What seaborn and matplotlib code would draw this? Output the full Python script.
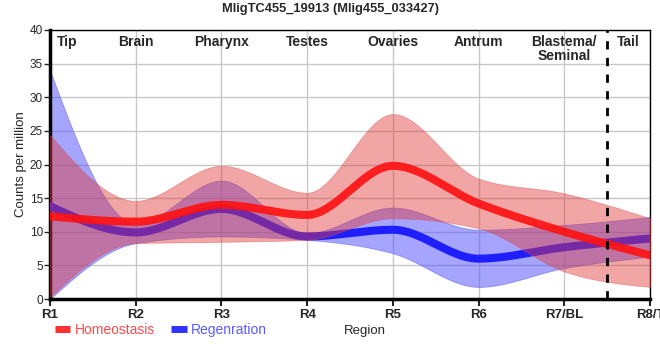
import numpy as np
import pandas as pd
import matplotlib
matplotlib.use("Agg")
import matplotlib.pyplot as plt
import seaborn as sns
from matplotlib.lines import Line2D

# Donnees (valeur par region)
regions = ["R1", "R2", "R3", "R4", "R5", "R6", "R7/BL", "R8/T"]
tissus = ["Tip", "Brain", "Pharynx", "Testes", "Ovaries", "Antrum", "Blastema/\nSeminal", "Tail"]
tissu_pos = [0.2, 1, 2, 3, 4, 5, 6, 6.75]

homeo_moy = [12.3, 11.5, 14.0, 12.5, 19.8, 14.2, 10.0, 6.5]
homeo_bas = [0.3, 8.3, 8.5, 8.8, 12.0, 10.5, 4.1, 1.8]
homeo_haut = [24.4, 14.6, 19.8, 15.8, 27.5, 17.9, 15.7, 12.0]

regen_moy = [13.8, 9.9, 13.4, 9.3, 10.3, 6.0, 7.7, 9.0]
regen_bas = [0.0, 8.3, 9.3, 8.8, 6.8, 1.8, 4.6, 6.3]
regen_haut = [34.0, 11.2, 17.6, 9.8, 13.6, 10.3, 11.0, 12.2]


def lissage_monotone(y, n=60):
    # courbe monotone (type d3 monotoneX) entre les points, pas = 1
    y = np.asarray(y, dtype=float)
    s = np.diff(y)
    t = np.zeros_like(y)
    for i in range(1, len(y) - 1):
        p = (s[i - 1] + s[i]) / 2
        t[i] = (np.sign(s[i - 1]) + np.sign(s[i])) * min(abs(s[i - 1]), abs(s[i]), 0.5 * abs(p))
    t[0] = (3 * s[0] - t[1]) / 2
    t[-1] = (3 * s[-1] - t[-2]) / 2
    xs, ys = [], []
    for i in range(len(y) - 1):
        u = np.linspace(0, 1, n, endpoint=False)
        h00 = 2 * u**3 - 3 * u**2 + 1
        h10 = u**3 - 2 * u**2 + u
        h01 = -2 * u**3 + 3 * u**2
        h11 = u**3 - u**2
        xs.append(i + u)
        ys.append(h00 * y[i] + h10 * t[i] + h01 * y[i + 1] + h11 * t[i + 1])
    xs.append([len(y) - 1])
    ys.append([y[-1]])
    return np.concatenate(xs), np.concatenate(ys)


sns.set_style("white")
plt.rcParams["font.family"] = ["Liberation Sans", "DejaVu Sans"]

fig = plt.figure(figsize=(6.6, 3.6), dpi=100)
ax = fig.add_axes([50 / 660, 61 / 360, 600 / 660, 269 / 360])

rose = (0.88, 0.22, 0.22)
bleu = (0.30, 0.30, 1.0)

# bande regeneration + ligne
xg, bh = lissage_monotone(regen_haut)
_, bb = lissage_monotone(regen_bas)
ax.fill_between(xg, bb, bh, color=bleu, alpha=0.5, edgecolor=(0.3, 0.3, 0.9, 0.5), linewidth=0.6, zorder=2)
xm, ym = lissage_monotone(regen_moy)
df_r = pd.DataFrame({"x": xm, "y": ym})
sns.lineplot(data=df_r, x="x", y="y", ax=ax, color="#1e1eff", linewidth=5.8, zorder=3)

# bande homeostasis + ligne
xg, hh = lissage_monotone(homeo_haut)
_, hb = lissage_monotone(homeo_bas)
ax.fill_between(xg, hb, hh, color=rose, alpha=0.45, edgecolor=(0.85, 0.3, 0.3, 0.5), linewidth=0.6, zorder=4)
xm, ym = lissage_monotone(homeo_moy)
df_h = pd.DataFrame({"x": xm, "y": ym})
sns.lineplot(data=df_h, x="x", y="y", ax=ax, color="#ff1010", alpha=0.9, linewidth=5.8, zorder=5)

# limite tronc / queue
ax.axvline(6.5, color="black", linestyle=(0, (3, 3)), linewidth=2, zorder=6)

ax.set_xlim(0, 7)
ax.set_ylim(0, 40)
ax.set_xticks(range(len(regions)))
ax.set_xticklabels(regions, fontweight="bold", fontsize=9.5)
ax.set_yticks(range(0, 41, 5))
ax.tick_params(axis="y", labelsize=8.5, length=4, width=1, left=True, pad=1)
ax.tick_params(axis="x", length=5, width=1.5, bottom=True, pad=2)
ax.grid(True, color="#c8c8c8", linewidth=1, zorder=0)
ax.set_axisbelow(True)

for cote in ["top", "right"]:
    ax.spines[cote].set_linewidth(1)
    ax.spines[cote].set_color("black")
for cote in ["left", "bottom"]:
    ax.spines[cote].set_linewidth(2.5)
    ax.spines[cote].set_color("black")

for nom, pos in zip(tissus, tissu_pos):
    ax.text(pos, 39.3, nom, ha="center", va="top", fontsize=10, fontweight="bold",
            linespacing=1.05, zorder=7)

ax.set_xlabel("")
ax.set_ylabel("Counts per million", fontsize=9.5, labelpad=2)
fig.text(365 / 660, 1 - 331 / 360, "Region", ha="center", va="center", fontsize=9.5)
fig.suptitle("MligTC455_19913 (Mlig455_033427)", x=0.5, y=1 - 9 / 360, va="center",
             fontsize=9.3, fontweight="bold")

poignees = [Line2D([0], [0], color="#ff3030", linewidth=5, solid_capstyle="butt"),
            Line2D([0], [0], color="#3030ff", linewidth=5, solid_capstyle="butt")]
leg = fig.legend(poignees, ["Homeostasis", "Regenration"], ncol=2, frameon=False,
                 loc="center left", bbox_to_anchor=(55 / 660, 1 - 330 / 360),
                 borderpad=0, borderaxespad=0,
                 handlelength=1.1, handletextpad=0.3, columnspacing=1.2, fontsize=10)
for txt, c in zip(leg.get_texts(), ["#ff4a4a", "#5a5aff"]):
    txt.set_color(c)

fig.savefig("out.png", dpi=100)
